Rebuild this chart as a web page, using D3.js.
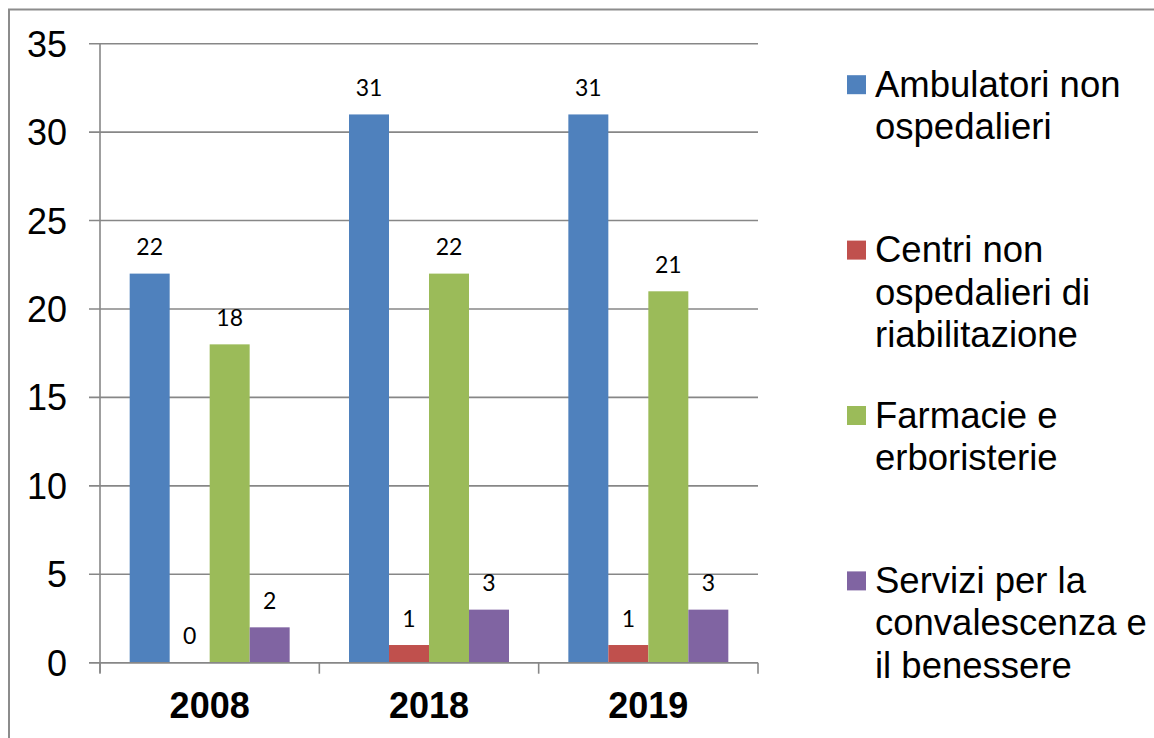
<!DOCTYPE html>
<html>
<head>
<meta charset="utf-8">
<script src="https://cdn.jsdelivr.net/npm/d3@7"></script>
<style>
  html, body { margin: 0; padding: 0; background: #fff; }
  svg { display: block; }
</style>
</head>
<body>
<svg id="chart" width="1154" height="738"></svg>
<script>
// ---- data ----
const categories = ["2008", "2018", "2019"];
const seriesNames = [
  "Ambulatori non ospedalieri",
  "Centri non ospedalieri di riabilitazione",
  "Farmacie e erboristerie",
  "Servizi per la convalescenza e il benessere"
];
const legendLines = [
  ["Ambulatori non", "ospedalieri"],
  ["Centri non", "ospedalieri di", "riabilitazione"],
  ["Farmacie e", "erboristerie"],
  ["Servizi per la", "convalescenza e", "il benessere"]
];
const ambulatori = [22, 31, 31];
const centri = [0, 1, 1];
const farmacie = [18, 22, 21];
const servizi = [2, 3, 3];
const seriesValues = [ambulatori, centri, farmacie, servizi];
const seriesColors = ["#4F81BD", "#C0504D", "#9BBB59", "#8064A2"];
const yTicks = [0, 5, 10, 15, 20, 25, 30, 35];

// ---- layout ----
const svg = d3.select("#chart");
const plot = { left: 100, right: 758, top: 43.7, bottom: 662.7 };
const gridColor = "#878787";
const sans = "'Liberation Sans', Arial, Helvetica, sans-serif";

// outer border (extends past the picture edge)
svg.append("rect")
  .attr("x", 9).attr("y", 9.5)
  .attr("width", 1300).attr("height", 900)
  .attr("fill", "none").attr("stroke", "#8c8c8c").attr("stroke-width", 2);

const x0 = d3.scaleBand().domain(categories).range([plot.left, plot.right]).padding(0);
const bw = x0.bandwidth();
const x1 = d3.scaleBand().domain(d3.range(seriesNames.length))
  .range([bw * 0.1353, bw * 0.8647]).padding(0);
const y = d3.scaleLinear().domain([0, 35]).range([plot.bottom, plot.top]);

// gridlines (including tick stubs to the left)
svg.append("g").selectAll("line").data(yTicks).join("line")
  .attr("x1", plot.left - 11).attr("x2", plot.right)
  .attr("y1", d => y(d)).attr("y2", d => y(d))
  .attr("stroke", gridColor).attr("stroke-width", 1.6);

// y axis line
svg.append("line")
  .attr("x1", plot.left).attr("x2", plot.left)
  .attr("y1", plot.top).attr("y2", plot.bottom + 10)
  .attr("stroke", gridColor).attr("stroke-width", 1.6);

// y tick labels
svg.append("g").selectAll("text").data(yTicks).join("text")
  .attr("x", 67).attr("y", d => y(d) + 13)
  .attr("text-anchor", "end")
  .attr("font-family", sans).attr("font-size", 36).attr("fill", "#000")
  .text(d => d);

// bars
const groups = svg.append("g").selectAll("g").data(categories).join("g")
  .attr("transform", c => `translate(${x0(c)},0)`);

groups.each(function(c, ci) {
  const g = d3.select(this);
  const rows = seriesValues.map((vals, si) => ({ si, v: vals[ci] }));
  g.selectAll("rect").data(rows).join("rect")
    .attr("x", d => x1(d.si))
    .attr("width", x1.bandwidth())
    .attr("y", d => y(d.v))
    .attr("height", d => y(0) - y(d.v))
    .attr("fill", d => seriesColors[d.si]);
  g.selectAll("text").data(rows).join("text")
    .attr("x", d => x1(d.si) + x1.bandwidth() / 2)
    .attr("y", d => y(d.v) - 18.5)
    .attr("text-anchor", "middle")
    .attr("font-family", "Lato, 'Open Sans', sans-serif")
    .attr("font-size", 23).attr("fill", "#000")
    .text(d => d.v);
});

// x axis line and ticks
svg.append("line")
  .attr("x1", plot.left - 11).attr("x2", plot.right)
  .attr("y1", plot.bottom).attr("y2", plot.bottom)
  .attr("stroke", gridColor).attr("stroke-width", 1.6);
const xTickPos = categories.map(c => x0(c)).concat([plot.right]);
svg.append("g").selectAll("line").data(xTickPos).join("line")
  .attr("x1", d => d).attr("x2", d => d)
  .attr("y1", plot.bottom).attr("y2", plot.bottom + 11)
  .attr("stroke", gridColor).attr("stroke-width", 1.6);

// category labels
svg.append("g").selectAll("text").data(categories).join("text")
  .attr("x", c => x0(c) + bw / 2)
  .attr("y", 718)
  .attr("text-anchor", "middle")
  .attr("font-family", sans).attr("font-size", 36).attr("font-weight", "bold")
  .attr("fill", "#000")
  .text(c => c);

// legend
const legendTop = 96.7, legendStep = 165.4, lineH = 42.5;
const leg = svg.append("g").selectAll("g").data(legendLines).join("g")
  .attr("transform", (d, i) => `translate(0,${legendTop + i * legendStep})`);
leg.append("rect")
  .attr("x", 847).attr("y", -21.5).attr("width", 19).attr("height", 19)
  .attr("fill", (d, i) => seriesColors[i]);
leg.append("text")
  .attr("font-family", sans).attr("font-size", 36.5).attr("fill", "#000")
  .selectAll("tspan").data(d => d).join("tspan")
  .attr("x", 875).attr("y", (d, j) => j * lineH)
  .text(d => d);
</script>
</body>
</html>
